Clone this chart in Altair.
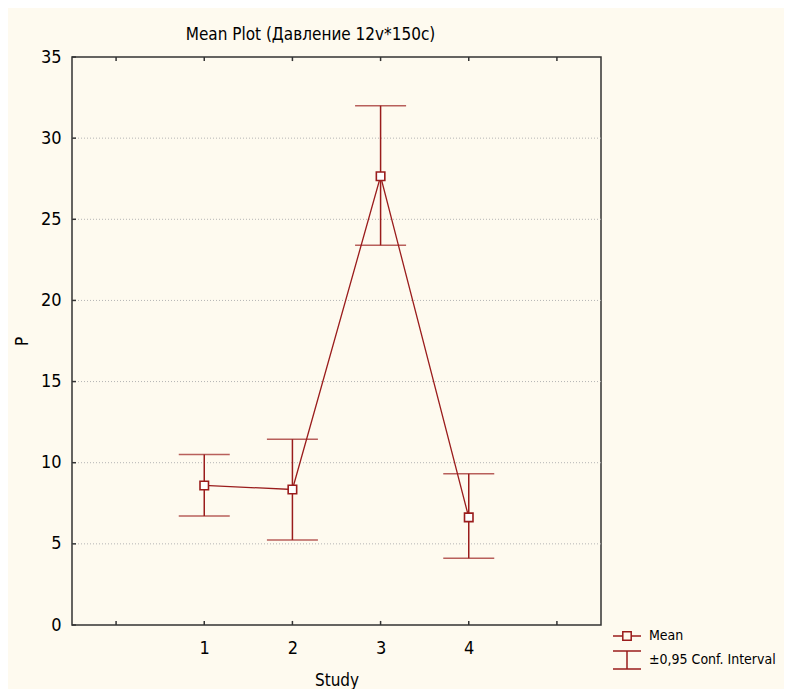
import altair as alt
import pandas as pd

# ---- data ----
studies = [1, 2, 3, 4]
means = [8.6, 8.35, 27.65, 6.63]
ci_lower = [6.72, 5.24, 23.4, 4.12]
ci_upper = [10.5, 11.45, 32.0, 9.32]

x_tick_values = [0, 1, 2, 3, 4, 5]
x_label_values = [1, 2, 3, 4]
y_tick_values = [0, 5, 10, 15, 20, 25, 30, 35]
grid_values = [5, 10, 15, 20, 25, 30]
legend_items = ["Mean", "±0,95 Conf. Interval"]

RED = "#9a1c1c"
FRAME = "#333333"
BG = "#fefaef"
FONT = "Liberation Sans Narrow, Arial Narrow, DejaVu Sans Condensed, sans-serif"
FS_LABEL = 18
FS_TITLE = 17
FS_LEGEND = 14

df = pd.DataFrame({"Study": studies, "P": means, "lo": ci_lower, "hi": ci_upper})
xt = pd.DataFrame({"x": x_tick_values})
yt = pd.DataFrame({"y": y_tick_values})
gd = pd.DataFrame({"y": grid_values})
lg = pd.DataFrame({"item": legend_items})

xscale = alt.Scale(domain=[-0.5, 5.5], nice=False, zero=False)
yscale = alt.Scale(domain=[0, 35], nice=False, zero=False)

x_axis = alt.Axis(values=x_label_values, ticks=False, tickSize=0, domain=False, grid=False,
                  labelPadding=14, title="Study", titlePadding=15, format="d")
y_axis = alt.Axis(values=y_tick_values, ticks=False, tickSize=0, domain=False, grid=False,
                  labelPadding=11, title="P", titlePadding=9)


def X(field, **kw):
    return alt.X(field, type="quantitative", scale=xscale, axis=x_axis, **kw)


def Y(field, **kw):
    return alt.Y(field, type="quantitative", scale=yscale, axis=y_axis, **kw)


# dotted horizontal gridlines
grid = alt.Chart(gd).mark_rule(color="#b4b4b4", strokeWidth=1, strokeDash=[1, 2]).encode(
    y=Y("y"), x=alt.value(0), x2=alt.value(529)
)

# inward ticks (bottom, top, left)
tick_len_y = 0.25
tick_len_x = 0.045
ticks_bottom = alt.Chart(xt).transform_calculate(y0="0", y1=str(tick_len_y)).mark_rule(
    color=FRAME, strokeWidth=1.5).encode(x=X("x"), y=Y("y0:Q"), y2="y1:Q")
ticks_top = alt.Chart(xt).transform_calculate(y0="35", y1=str(35 - tick_len_y)).mark_rule(
    color=FRAME, strokeWidth=1.5).encode(x=X("x"), y=Y("y0:Q"), y2="y1:Q")
ticks_left = alt.Chart(yt).transform_calculate(x0="-0.5", x1=str(-0.5 + tick_len_x)).mark_rule(
    color=FRAME, strokeWidth=1.5).encode(y=Y("y"), x=X("x0:Q"), x2="x1:Q")

# error bars
err = alt.Chart(df).mark_rule(color=RED, strokeWidth=1.5).encode(
    x=X("Study"), y=Y("lo"), y2="hi")
cap_hi = alt.Chart(df).mark_tick(color=RED, orient="horizontal", size=51, thickness=1.5).encode(
    x=X("Study"), y=Y("hi"))
cap_lo = alt.Chart(df).mark_tick(color=RED, orient="horizontal", size=51, thickness=1.5).encode(
    x=X("Study"), y=Y("lo"))

line = alt.Chart(df).mark_line(color=RED, strokeWidth=1.3).encode(x=X("Study"), y=Y("P"))
pts = alt.Chart(df).mark_point(shape="square", size=72, fill="white", filled=True, opacity=1,
                               stroke=RED, strokeWidth=1.6).encode(x=X("Study"), y=Y("P"))

MEAN_PATH = "M-1.4,0H-0.42M0.42,0H1.4M-0.42,-0.42H0.42V0.42H-0.42Z"
CI_PATH = "M-1.4,-0.9H1.4M0,-0.9V0.9M-1.4,0.9H1.4"

legend_layer = alt.Chart(lg).mark_point(opacity=0, filled=False, color=RED).encode(
    shape=alt.Shape(
        "item:N",
        scale=alt.Scale(domain=legend_items, range=[MEAN_PATH, CI_PATH]),
        legend=alt.Legend(
            title=None, orient="none", legendX=544, legendY=568, padding=0,
            symbolSize=400, symbolStrokeColor=RED, symbolFillColor="white",
            symbolStrokeWidth=1.5, symbolOpacity=1, symbolType="circle",
            labelFont=FONT, labelFontSize=FS_LEGEND, labelColor="black", labelOffset=11,
            rowPadding=4, labelLimit=400,
        ),
    )
)

chart = alt.layer(
    grid, ticks_bottom, ticks_top, ticks_left, line, err, cap_hi, cap_lo, pts, legend_layer
).properties(
    width=529,
    height=568,
    title=alt.TitleParams("Mean Plot (Давление 12v*150c)", font=FONT, fontSize=FS_TITLE,
                          fontWeight="normal", color="black", anchor="middle", dx=-26, offset=4),
    autosize=alt.AutoSizeParams(type="none"),
    padding={"left": 64, "top": 49, "right": 183, "bottom": 64},
    background=BG,
).configure_view(
    stroke=FRAME, strokeWidth=1.5, fill="white"
).configure_axis(
    labelFont=FONT, labelFontSize=FS_LABEL, labelColor="black",
    titleFont=FONT, titleFontSize=FS_TITLE, titleFontWeight="normal", titleColor="black",
)

chart.save("out.html", embed_options={"renderer": "svg", "actions": False})
